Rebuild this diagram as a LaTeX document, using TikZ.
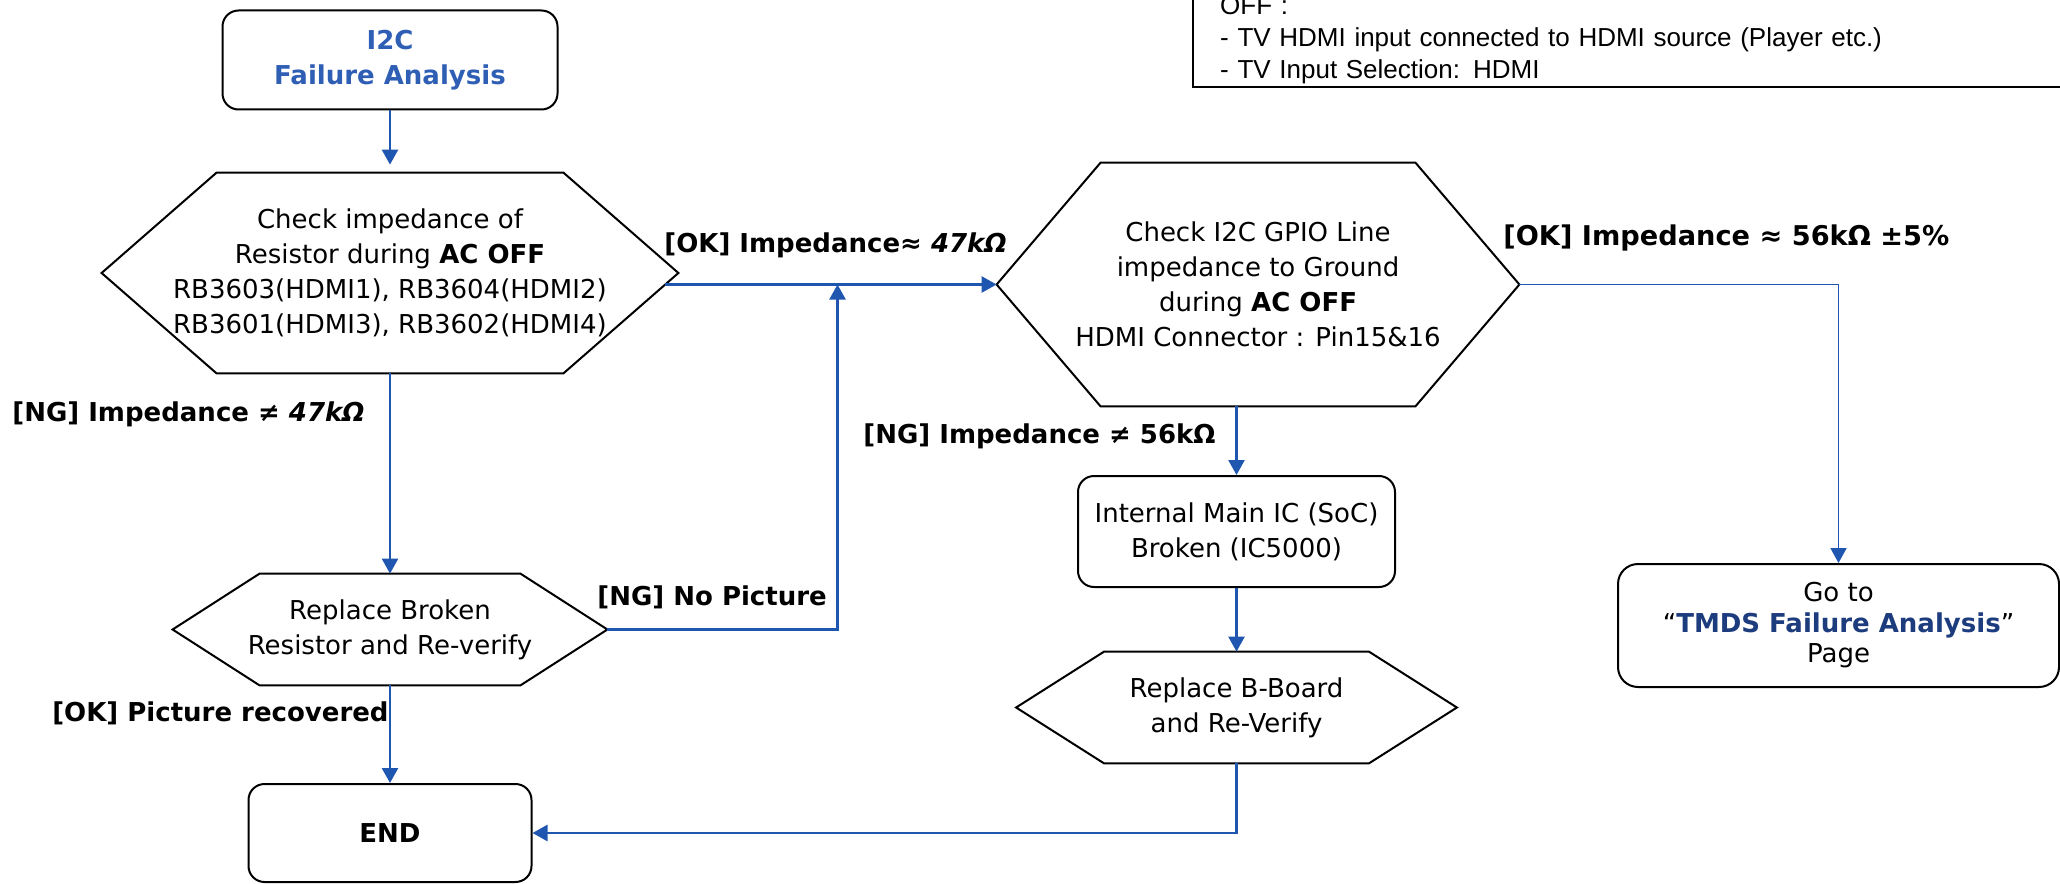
\documentclass[tikz,border=0pt]{standalone}
\usepackage{fontspec}
\setmainfont{DejaVu Sans}
\newfontfamily\notefont{Liberation Sans}
\usetikzlibrary{arrows.meta,calc,positioning}

\definecolor{flowblue}{RGB}{31,86,176}
\definecolor{titleblue}{RGB}{47,94,181}
\definecolor{tmdsblue}{RGB}{28,60,125}

% hexagon outline round a plain node: #1 node, #2 slant (px)
\newcommand{\hexframe}[2]{%
  \draw[hexline] (#1.west) -- ($(#1.north west)+(#2,0)$) -- ($(#1.north east)-(#2,0)$)
    -- (#1.east) -- ($(#1.south east)-(#2,0)$) -- ($(#1.south west)+(#2,0)$) -- cycle;}

\tikzset{
  box/.style={draw, line width=1pt, rounded corners=8pt, align=center, inner sep=0pt,
    font=\fontsize{13}{17.5}\selectfont},
  hexa/.style={align=center, inner sep=0pt, font=\fontsize{13}{17.5}\selectfont},
  hexline/.style={draw, line width=1pt, line join=miter},
  flow/.style={draw=flowblue, line width=1.25pt, -{Triangle[length=7.5pt,width=8pt]}},
  lbl/.style={inner sep=0pt, font=\bfseries\fontsize{13}{16}\selectfont},
  notebox/.style={draw, line width=1.2pt, inner xsep=13.5pt, inner ysep=1.5pt,
    align=left, font=\notefont\fontsize{13}{16}\selectfont},
}

\begin{document}
\begin{tikzpicture}[x=0.5pt, y=-0.5pt]
  \useasboundingbox (0,0) rectangle (2060,883);

  % note at the top right
  \node[notebox, anchor=south west, text width=440pt] (note) at (1192,88)
    {OFF :\\- TV HDMI input connected to HDMI source (Player etc.)\\- TV Input Selection: HDMI};

  % left column
  \node[box, minimum width=167.5pt, minimum height=49.5pt,
    font=\bfseries\fontsize{13}{17.5}\selectfont, text=titleblue] (start) at (390,60)
    {I2C\\Failure Analysis};
  \node[hexa, minimum width=288pt, minimum height=100pt] (chk1) at (390,273)
    {Check impedance of\\Resistor during \textbf{AC OFF}\\RB3603(HDMI1), RB3604(HDMI2)\\RB3601(HDMI3), RB3602(HDMI4)};
  \hexframe{chk1}{115}
  \node[hexa, minimum width=217pt, minimum height=55.5pt] (fix1) at (390,629.5)
    {Replace Broken\\Resistor and Re-verify};
  \hexframe{fix1}{87}
  \node[box, minimum width=141.5pt, minimum height=49pt,
    font=\bfseries\fontsize{13}{17.5}\selectfont] (done) at (390,833) {END};

  % middle column
  \node[hexa, minimum width=261pt, minimum height=121.5pt] (chk2) at (1258,284.5)
    {Check I2C GPIO Line\\impedance to Ground\\during \textbf{AC OFF}\\HDMI Connector : Pin15\&16};
  \hexframe{chk2}{104}
  \node[box, minimum width=158.5pt, minimum height=55.5pt] (soc) at (1236.5,531.5)
    {Internal Main IC (SoC)\\Broken (IC5000)};
  \node[hexa, minimum width=220pt, minimum height=55.5pt] (fix2) at (1236.5,707.5)
    {Replace B-Board\\and Re-Verify};
  \hexframe{fix2}{88}

  % right column
  \node[box, rounded corners=10pt, minimum width=220.5pt, minimum height=61.5pt,
    font=\fontsize{13}{15.25}\selectfont] (tmds) at (1838.5,625.5)
    {Go to\\“\textcolor{tmdsblue}{\textbf{TMDS Failure Analysis}}”\\Page};

  % connectors
  \draw[flow, shorten >=4pt] (start) -- (chk1);
  \draw[flow] (chk1) -- (fix1);
  \draw[flow] (fix1) -- (done);
  \draw[flow, shorten <=-6.5pt] (chk2.west -| chk1.east) -- (chk2.west);
  \coordinate (njoin) at ($(chk1.east)!0.5!(chk2.west)$);
  \draw[flow] (fix1.east) -| (njoin |- chk2.west);
  \draw[flow] (chk2.south -| soc.north) -- (soc.north);
  \draw[flow] (soc) -- (fix2);
  \draw[flow] (fix2.south) |- (done.east);
  \draw[flow, line width=0.9pt] (chk2.east) -| (tmds.north);

  % labels
  \node[lbl, anchor=west] (okimp) at (664,245) {[OK] Impedance≈ \textit{47kΩ}};
  \node[lbl, anchor=west] (ngimp) at (12,414) {[NG] Impedance ≠ \textit{47kΩ}};
  \node[lbl, anchor=west] (ngpic) at (597,597) {[NG] No Picture};
  \node[lbl, anchor=east] (okpic) at (389,713) {[OK] Picture recovered};
  \node[lbl, anchor=west] (ngsoc) at (863,436) {[NG] Impedance ≠ 56kΩ};
  \node[lbl, anchor=west, font=\bfseries\fontsize{13.6}{16}\selectfont] (oktmds) at (1503,238)
    {[OK] Impedance ≈ 56kΩ ±5\%};
\end{tikzpicture}
\end{document}
